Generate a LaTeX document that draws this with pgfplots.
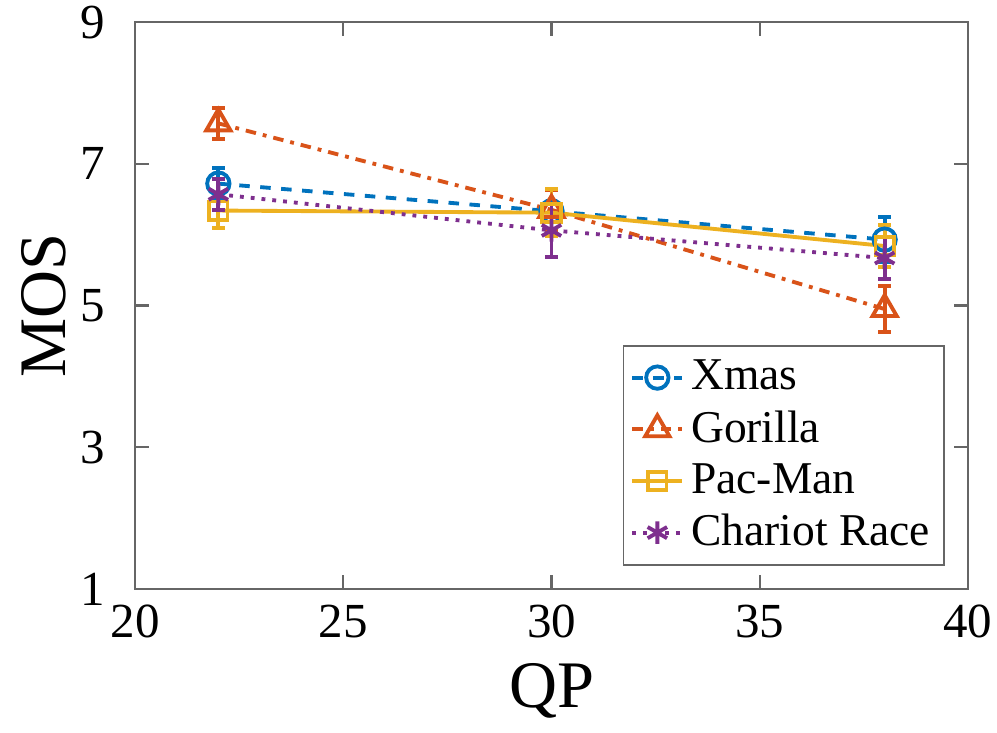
\documentclass[border=0pt]{standalone}
\usepackage{fontspec}
\setmainfont{Liberation Serif}
\usepackage{pgfplots}
\pgfplotsset{compat=1.18}
\begin{document}
\begin{tikzpicture}
\definecolor{MBlue}{rgb}{0,0.447,0.741}
\definecolor{MOrange}{rgb}{0.85,0.325,0.098}
\definecolor{MYellow}{rgb}{0.929,0.694,0.125}
\definecolor{MPurple}{rgb}{0.494,0.184,0.556}
\begin{axis}[
  at={(0,0)}, anchor=south west,
  width=238pt, height=162pt,
  scale only axis,
  xmin=20, xmax=40, ymin=1, ymax=9,
  xtick={20,25,30,35,40},
  ytick={1,3,5,7,9},
  tick align=inside,
  major tick length=4pt,
  axis line style={black!60, line width=0.6pt},
  tick style={black!60, line width=0.6pt},
  tick label style={font=\fontsize{14}{16}\selectfont},
  yticklabel style={xshift=-5pt},
  xticklabel style={yshift=-1pt},
  /pgf/number format/assume math mode=true,
  xlabel={QP}, ylabel={MOS},
  label style={font=\fontsize{19}{22}\selectfont},
  xlabel style={at={(axis description cs:0.5,-0.18)}, anchor=center},
  ylabel style={at={(axis description cs:-0.11,0.5)}, anchor=center},
  legend style={at={(0.972,0.041)}, anchor=south east, draw=black!60,
    font=\fontsize{13}{15}\selectfont, row sep=0.5pt, inner sep=2pt},
  legend cell align=left,
  legend image code/.code={\draw[mark repeat=2,mark phase=2] plot coordinates {(0cm,0cm) (0.25cm,0cm) (0.5cm,0cm)};},
  every axis plot/.append style={line width=1.1pt},
  error bars/error bar style={solid, line width=1.1pt},
  error bars/error mark options={rotate=90, mark size=1.8pt, line width=1.1pt},
]
\addplot[color=MBlue, dashed, mark=o, mark size=3.2pt, mark options={solid},
  error bars/.cd, y dir=both, y explicit]
  coordinates {(22,6.72) +- (0,0.22) (30,6.33) +- (0,0.30) (38,5.93) +- (0,0.32)};
\addlegendentry{Xmas}
\addplot[color=MOrange, dash dot, mark=triangle, mark size=4pt, mark options={solid},
  error bars/.cd, y dir=both, y explicit]
  coordinates {(22,7.57) +- (0,0.22) (30,6.35) +- (0,0.28) (38,4.95) +- (0,0.32)};
\addlegendentry{Gorilla}
\addplot[color=MYellow, solid, mark=square, mark size=2.6pt, mark options={solid},
  error bars/.cd, y dir=both, y explicit]
  coordinates {(22,6.34) +- (0,0.25) (30,6.31) +- (0,0.33) (38,5.84) +- (0,0.30)};
\addlegendentry{Pac-Man}
\addplot[color=MPurple, dotted, mark=asterisk, mark size=3.2pt, mark options={solid},
  error bars/.cd, y dir=both, y explicit]
  coordinates {(22,6.57) +- (0,0.22) (30,6.06) +- (0,0.38) (38,5.67) +- (0,0.30)};
\addlegendentry{Chariot Race}
\end{axis}
\pgfresetboundingbox
\path[use as bounding box] (-38.6pt,-41.1pt) rectangle (246.3pt,168.3pt);
\end{tikzpicture}
\end{document}
